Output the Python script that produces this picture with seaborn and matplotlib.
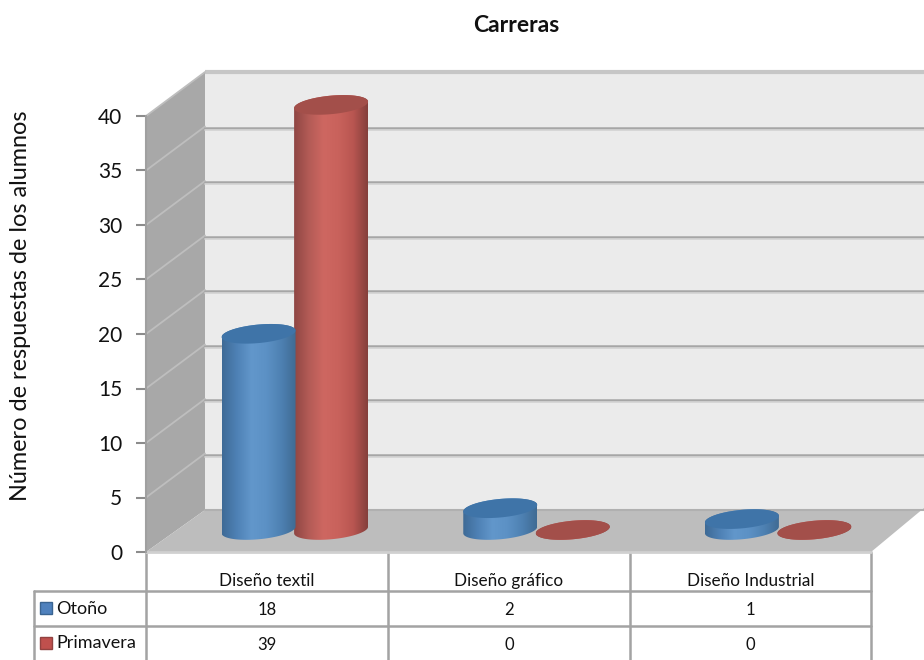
import numpy as np
import pandas as pd
import matplotlib
matplotlib.use("Agg")
import matplotlib.pyplot as plt
from matplotlib.colors import LinearSegmentedColormap
from matplotlib.patches import Polygon, Rectangle
import seaborn as sns

# Values
carreras = ["Diseño textil", "Diseño gráfico", "Diseño Industrial"]
otono = [18, 2, 1]
primavera = [39, 0, 0]
series_names = ["Otoño", "Primavera"]
y_ticks = [0, 5, 10, 15, 20, 25, 30, 35, 40]

W, H = 924, 660
sns.set_style("white")
plt.rcParams["font.family"] = ["Lato", "DejaVu Sans"]

df = pd.DataFrame({
    "carrera": carreras * 2,
    "serie": [series_names[0]] * 3 + [series_names[1]] * 3,
    "valor": otono + primavera,
})

fig = plt.figure(figsize=(W / 100, H / 100), dpi=100)


def px_axes(left, top, right, bottom, **kw):
    return fig.add_axes([left / W, 1 - bottom / H, (right - left) / W, (bottom - top) / H], **kw)


# Pixel canvas for the walls and the table
bg = fig.add_axes([0, 0, 1, 1])
bg.set_xlim(0, W)
bg.set_ylim(H, 0)
bg.axis("off")

# Walls and floor
bg.add_patch(Polygon([(205, 72), (W, 72), (W, 510), (205, 510)], fc="#EBEBEB", ec="none"))
bg.add_patch(Polygon([(146, 116), (205, 72), (205, 510), (146, 552)], fc="#A8A8A8", ec="none"))
bg.add_patch(Polygon([(146, 552), (205, 510), (W, 510), (W, 508), (871, 552)], fc="#BDBDBD", ec="none"))
bg.plot([205, W], [72, 72], color="#C6C6C6", lw=3, solid_capstyle="butt")
bg.plot([205, W], [510, 510], color="#B0B0B0", lw=1.5)
bg.plot([146, 871], [552, 552], color="#D0D0D0", lw=2)

# Front axis with the real scale
front = px_axes(146, 116, 871, 552)
front.patch.set_alpha(0)
front.set_ylim(0, 40)
front.set_xlim(0, 1)
front.set_xticks([])
front.set_yticks(y_ticks)
front.tick_params(axis="y", length=7, width=1.5, color="#8C8C8C", labelsize=15, pad=10, left=True,
                  labelcolor="#111111")
sns.despine(ax=front, right=True, top=True, bottom=True)
front.spines["left"].set_color("#A0A0A0")
front.spines["left"].set_linewidth(1.5)
front.set_ylabel("Número de respuestas de los alumnos", fontsize=16.9, color="#111111")
front.yaxis.set_label_coords(-0.159, 0.564)

# Gridlines on the walls follow the same ticks
for v in y_ticks[1:]:
    y = 552 - v * 10.9
    bg.plot([146, 205], [y, y - 44], color="#BEBEBE", lw=1.3)
    if v < 40:
        bg.plot([205, W], [y - 43, y - 43], color="#A6A6A6", lw=1.8)
        bg.plot([205, W], [y - 41, y - 41], color="#D2D2D2", lw=1.2)

# Cylinders, the axes reach below zero so the round bases are not cut
ax = px_axes(174, 530 - 41 * 10.9, 899, 530 + 3 * 10.9)
ax.patch.set_alpha(0)
sns.barplot(data=df, x="carrera", y="valor", hue="serie", order=carreras, hue_order=series_names,
            palette=["#4F81BD", "#C0504D"], width=0.6, gap=0, saturation=1, legend=False, ax=ax)
ax.set_ylim(-3, 41)
xlim = ax.get_xlim()
ax.axis("off")

ramps = {
    "blue": ["#3E6A96", "#4E81B5", "#6297CB", "#5C91C5", "#4E81B2", "#3F6B94"],
    "red": ["#8F4643", "#B35B56", "#CE6761", "#C9625C", "#B95651", "#843F3C"],
}
caps = {"blue": "#3F74A8", "red": "#A34F4A"}

bars = list(ax.patches)
t = np.linspace(0, 2 * np.pi, 120)
for i, bar in enumerate(bars):
    key = "blue" if i < 3 else "red"
    bar.set_visible(False)
    x0, w, h = bar.get_x(), bar.get_width(), bar.get_height()
    cx = x0 + w / 2
    rx = w / 2 * 1.02
    ry = 0.85
    tilt = 0.3

    low = np.linspace(np.pi, 2 * np.pi, 60)
    up = np.linspace(0, np.pi, 60)
    body_x = np.r_[cx + rx * np.cos(low), cx + rx * np.cos(up)]
    body_y = np.r_[ry * np.sin(low) + tilt * np.cos(low), h + ry * np.sin(up) + tilt * np.cos(up)]

    z = 5 - i * 0.5 if i >= 3 else 8 - i * 0.5
    clip = Polygon(np.c_[body_x, body_y], transform=ax.transData, fc="none", ec="none")
    ax.add_patch(clip)
    cmap = LinearSegmentedColormap.from_list(key, ramps[key])
    im = ax.imshow(np.linspace(0, 1, 256)[None, :], cmap=cmap, aspect="auto",
                   extent=(cx - rx, cx + rx, -2, h + 2), zorder=z)
    im.set_clip_path(clip)
    ax.add_patch(Polygon(np.c_[cx + rx * np.cos(t), h + ry * np.sin(t) + tilt * np.cos(t)],
                         fc=caps[key], ec="none", zorder=z + 0.1, clip_on=False))
ax.set_xlim(xlim)
ax.set_ylim(-3, 41)

# Data table
col_x = [146, 388, 630, 871]
line_c = "#A3A3A3"
for x in col_x:
    bg.plot([x, x], [552, H], color=line_c, lw=1.8, zorder=1)
bg.plot([34, 34], [591, H], color=line_c, lw=1.8)
for y in [591, 626]:
    bg.plot([34, 871], [y, y], color=line_c, lw=1.8)

for j, name in enumerate(carreras):
    cx = (col_x[j] + col_x[j + 1]) / 2
    bg.text(cx, 581, name, ha="center", va="center", fontsize=12.3, color="#111111")
    bg.text(cx, 610, str(otono[j]), ha="center", va="center", fontsize=12, color="#111111")
    bg.text(cx, 645, str(primavera[j]), ha="center", va="center", fontsize=12, color="#111111")

key_c = [("#4F81BD", "#3A6491"), ("#C0504D", "#924240")]
for name, yc, (fc, ec) in zip(series_names, [607.5, 642.5], key_c):
    bg.add_patch(Rectangle((39.5, yc - 6), 12, 12, fc=fc, ec=ec, lw=1))
    bg.text(56, yc + 1, name, ha="left", va="center", fontsize=13, color="#111111")

bg.text(516, 25, "Carreras", ha="center", va="center", fontsize=16.5, fontweight="bold", color="#111111")

fig.savefig("out.png", dpi=100)
